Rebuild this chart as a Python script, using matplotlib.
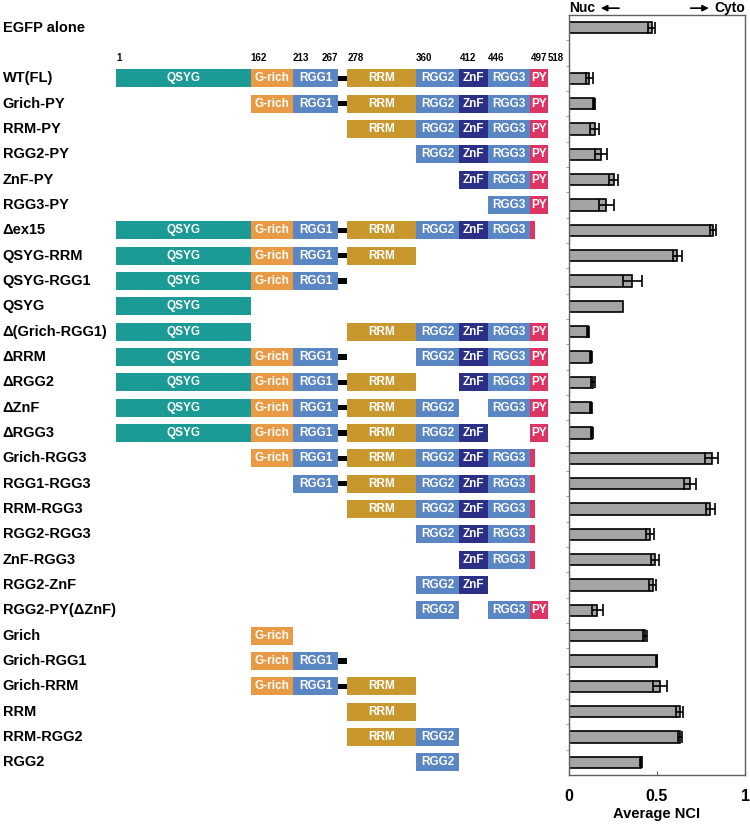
import numpy as np
import matplotlib.pyplot as plt

plt.rcParams['font.family'] = ['Liberation Sans', 'DejaVu Sans']
plt.rcParams['font.weight'] = 'bold'

# construct names, top to bottom ('' = spacer row)
row_labels = ['EGFP alone', '', 'WT(FL)', 'Grich-PY', 'RRM-PY', 'RGG2-PY', 'ZnF-PY', 'RGG3-PY',
              '\u0394ex15', 'QSYG-RRM', 'QSYG-RGG1', 'QSYG', '\u0394(Grich-RGG1)', '\u0394RRM',
              '\u0394RGG2', '\u0394ZnF', '\u0394RGG3', 'Grich-RGG3', 'RGG1-RGG3', 'RRM-RGG3',
              'RGG2-RGG3', 'ZnF-RGG3', 'RGG2-ZnF', 'RGG2-PY(\u0394ZnF)', 'Grich', 'Grich-RGG1',
              'Grich-RRM', 'RRM', 'RRM-RGG2', 'RGG2']

# average NCI and error
nci_mean = [0.47, 0, 0.114, 0.142, 0.146, 0.18, 0.254, 0.212, 0.818, 0.615, 0.36, 0.304,
            0.106, 0.123, 0.137, 0.123, 0.13, 0.81, 0.687, 0.803, 0.459, 0.488, 0.476,
            0.161, 0.43, 0.497, 0.516, 0.63, 0.63, 0.408]
nci_err = [0.02, np.nan, 0.02, 0.005, 0.025, 0.034, 0.025, 0.044, 0.015, 0.025, 0.054, np.nan,
           0.005, 0.005, 0.01, 0.005, 0.005, 0.036, 0.033, 0.027, 0.023, 0.022, 0.02,
           0.03, 0.012, 0.005, 0.04, 0.02, 0.01, 0.005]

# domain boundaries (aa) and colours
domain_span = {'QSYG': (1, 162), 'G-rich': (162, 213), 'RGG1': (213, 267), 'link': (267, 278),
               'RRM': (278, 360), 'RGG2': (360, 412), 'ZnF': (412, 446), 'RGG3': (446, 497),
               'PY': (497, 518), 'PYs': (497, 503)}
domain_color = {'QSYG': '#1b9a96', 'G-rich': '#e99a45', 'RGG1': '#5b86c4', 'link': 'black',
                'RRM': '#c8982e', 'RGG2': '#5b86c4', 'ZnF': '#2c2f86', 'RGG3': '#5b86c4',
                'PY': '#dc3463', 'PYs': '#dc3463'}
boundary_marks = [1, 162, 213, 267, 278, 360, 412, 446, 497, 518]

full = ['QSYG', 'G-rich', 'RGG1', 'link', 'RRM', 'RGG2', 'ZnF', 'RGG3', 'PY']
row_domains = [
    [], [],
    full,
    full[1:],
    full[4:],
    full[5:],
    full[6:],
    full[7:],
    full[:8] + ['PYs'],
    full[:5],
    full[:4],
    ['QSYG'],
    ['QSYG', 'RRM', 'RGG2', 'ZnF', 'RGG3', 'PY'],
    ['QSYG', 'G-rich', 'RGG1', 'link', 'RGG2', 'ZnF', 'RGG3', 'PY'],
    ['QSYG', 'G-rich', 'RGG1', 'link', 'RRM', 'ZnF', 'RGG3', 'PY'],
    ['QSYG', 'G-rich', 'RGG1', 'link', 'RRM', 'RGG2', 'RGG3', 'PY'],
    ['QSYG', 'G-rich', 'RGG1', 'link', 'RRM', 'RGG2', 'ZnF', 'PY'],
    full[1:8] + ['PYs'],
    full[2:8] + ['PYs'],
    full[4:8] + ['PYs'],
    full[5:8] + ['PYs'],
    full[6:8] + ['PYs'],
    ['RGG2', 'ZnF'],
    ['RGG2', 'RGG3', 'PY'],
    ['G-rich'],
    ['G-rich', 'RGG1', 'link'],
    ['G-rich', 'RGG1', 'link', 'RRM'],
    ['RRM'],
    ['RRM', 'RGG2'],
    ['RGG2'],
]

rows = np.arange(len(row_labels))

fig = plt.figure(figsize=(7.5, 8.24), dpi=100)
ax_bar = fig.add_axes([0.7587, 0.0595, 0.2347, 0.9223])
ax_dom = fig.add_axes([0.0, 0.0595, 560 / 750, 0.9223])

# ---- domain diagrams ----
ax_dom.set_xlim(-137.8, 532.4)
ax_dom.set_ylim(len(rows) - 0.5, -0.5)
ax_dom.axis('off')

for r, label, doms in zip(rows, row_labels, row_domains):
    ax_dom.text(0.005, r, label, transform=ax_dom.get_yaxis_transform(),
                ha='left', va='center', fontsize=10.5, fontweight='bold')
    for d in doms:
        start, end = domain_span[d]
        h = 0.2 if d == 'link' else 0.7
        ax_dom.barh(r, end - start, left=start, height=h, color=domain_color[d], edgecolor='none')
        if d not in ('link', 'PYs'):
            ax_dom.text((start + end) / 2, r, d, ha='center', va='center',
                        color='white', fontsize=8.5, fontweight='bold')

# residue numbers above WT
wt_row = row_labels.index('WT(FL)')
for pos in boundary_marks:
    ha = 'right' if pos == 267 else 'left'
    ax_dom.text(pos, wt_row - 0.8, str(pos), ha=ha, va='center', fontsize=7, fontweight='bold')

# ---- NCI bar chart ----
ax_bar.barh(rows, nci_mean, height=0.45, color='#a4a4a4', edgecolor='black', linewidth=1.2)
err = np.array(nci_err, dtype=float)
ok = ~np.isnan(err)
ax_bar.errorbar(np.array(nci_mean)[ok], rows[ok], xerr=err[ok], fmt='none', ecolor='black',
                elinewidth=1.2, capsize=4, capthick=1.2)
ax_bar.set_xlim(0, 1)
ax_bar.set_ylim(len(rows) - 0.5, -0.5)
ax_bar.set_xticks([0, 0.5, 1])
ax_bar.set_xticklabels(['0', '0.5', '1'], fontsize=11.5, fontweight='bold')
ax_bar.tick_params(axis='x', direction='in', length=3, pad=10, color='#606060')
ax_bar.set_yticks([])
ax_bar.set_yticks(rows[:-1] + 0.5, minor=True)
ax_bar.tick_params(axis='y', which='minor', direction='out', length=2, color='#909090')
ax_bar.set_xlabel('Average NCI', fontsize=10.5, fontweight='bold', labelpad=2)
for sp in ax_bar.spines.values():
    sp.set_color('#606060')
    sp.set_linewidth(1)

# Nuc / Cyto header
ax_bar.text(0, 1.009, 'Nuc', transform=ax_bar.transAxes, ha='left', va='center',
            fontsize=10, fontweight='bold')
ax_bar.text(1, 1.009, 'Cyto', transform=ax_bar.transAxes, ha='right', va='center',
            fontsize=10, fontweight='bold')
ax_bar.annotate('', xy=(0.165, 1.009), xytext=(0.30, 1.009), xycoords='axes fraction',
                arrowprops=dict(arrowstyle='-|>', color='black', lw=1.2, mutation_scale=9))
ax_bar.annotate('', xy=(0.81, 1.009), xytext=(0.675, 1.009), xycoords='axes fraction',
                arrowprops=dict(arrowstyle='-|>', color='black', lw=1.2, mutation_scale=9))

fig.savefig('out.png', dpi=100)
